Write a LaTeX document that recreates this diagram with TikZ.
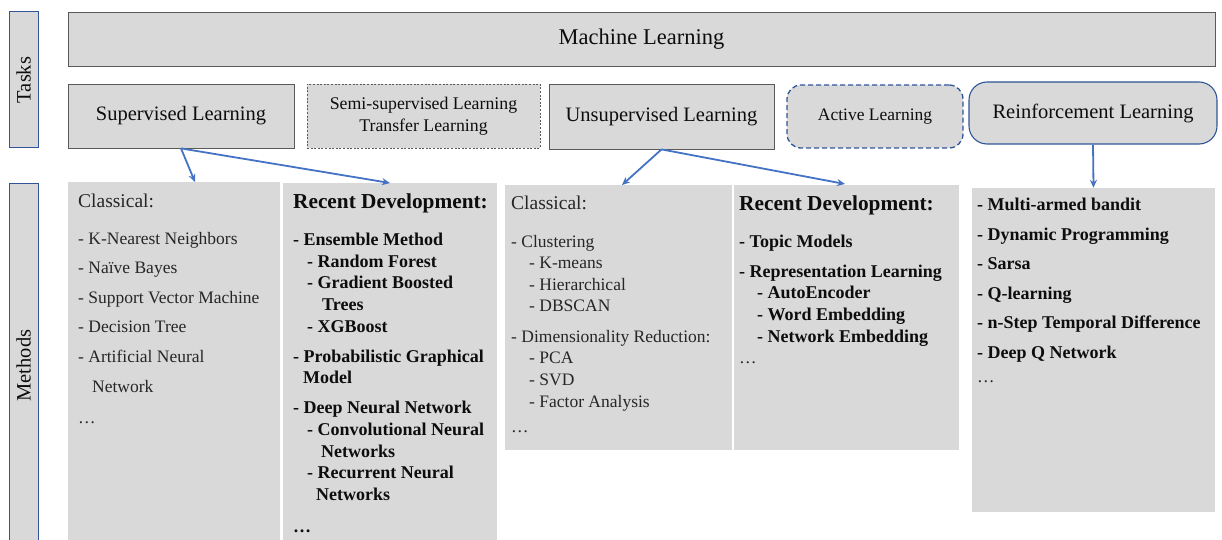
\documentclass[tikz,border=0pt]{standalone}
\usepackage{fontspec}
\setmainfont{Liberation Serif}
\usetikzlibrary{arrows.meta}
\definecolor{boxgray}{HTML}{D9D9D9}
\definecolor{edgegray}{HTML}{5A5A5A}
\definecolor{navy}{HTML}{2F5597}
\definecolor{arrowblue}{HTML}{4472C4}
\definecolor{txtgray}{HTML}{262626}
\definecolor{txtdark}{HTML}{0D0D0D}
\begin{document}
\begin{tikzpicture}[x=1pt,y=-1pt,
  taskbox/.style={draw=edgegray, fill=boxgray, line width=0.8pt, inner sep=0pt, align=center, text=txtdark},
  sidebox/.style={draw=navy, fill=boxgray, line width=1pt, inner sep=0pt, text=txtdark, font=\fontsize{20.5}{24}\selectfont},
  methbox/.style={fill=boxgray, inner sep=0pt},
  big/.style={font=\fontsize{20.5}{24}\selectfont},
  cls/.style={anchor=base west, inner sep=0pt, text=txtgray, font=\fontsize{17.5}{21}\selectfont},
  clsh/.style={anchor=base west, inner sep=0pt, text=txtgray, font=\fontsize{19.5}{23}\selectfont},
  rec/.style={anchor=base west, inner sep=0pt, text=txtdark, font=\bfseries\fontsize{18}{21}\selectfont},
  rech/.style={anchor=base west, inner sep=0pt, text=txtdark, font=\bfseries\fontsize{21.3}{25}\selectfont},
  link/.style={draw=arrowblue, line width=1.8pt, -{Stealth[length=8pt,width=7pt]}}
]
\useasboundingbox (0,0) rectangle (1222,540);
\clip (0,0) rectangle (1222,540);

% side labels
\node[sidebox, minimum width=29pt, minimum height=136pt] (tasks) at (23.5,80) {\rotatebox{90}{Tasks}};
\node[sidebox, minimum width=29pt, minimum height=365pt] (methods) at (23.5,365.5) {\rotatebox{90}{Methods}};

% task boxes
\node[taskbox, minimum width=1147pt, minimum height=54pt, font=\fontsize{22.5}{26}\selectfont] (ml) at (641.5,39) {Machine Learning};
\node[taskbox, big, minimum width=226pt, minimum height=64pt] (sup) at (181,116) {Supervised Learning};
\node[taskbox, dash pattern=on 2pt off 1.6pt, minimum width=233pt, minimum height=64pt, font=\fontsize{17.8}{22}\selectfont] (semi) at (423.5,116) {Semi-supervised Learning\\Transfer Learning};
\node[taskbox, big, minimum width=225pt, minimum height=65pt] (unsup) at (661.5,116.5) {Unsupervised Learning};
\node[taskbox, draw=navy, line width=1.3pt, dash pattern=on 5pt off 3pt, rounded corners=14pt, minimum width=176pt, minimum height=63pt, font=\fontsize{17.5}{21}\selectfont] (active) at (875,116.5) {Active Learning};
\node[taskbox, draw=navy, line width=1.1pt, rounded corners=18pt, big, minimum width=248pt, minimum height=62pt] (rl) at (1093,113) {Reinforcement Learning};

% method boxes
\node[methbox, minimum width=212pt, minimum height=366pt] (supcls) at (174,365) {};
\node[methbox, minimum width=214pt, minimum height=365pt] (suprec) at (390,365.5) {};
\node[methbox, minimum width=227pt, minimum height=265pt] (uncls) at (618.5,317.5) {};
\node[methbox, minimum width=225pt, minimum height=265pt] (unrec) at (846.5,317.5) {};
\node[methbox, minimum width=243pt, minimum height=324pt] (rlbox) at (1093.5,350) {};

% arrows
\coordinate (e1) at (195,182);
\coordinate (e2) at (390,183);
\coordinate (e3) at (622,185);
\coordinate (e4) at (845,184);
\draw[link] (sup.south) -- (e1);
\draw[link] (sup.south) -- (e2);
\draw[link] (unsup.south) -- (e3);
\draw[link] (unsup.south) -- (e4);
\draw[link] (rl.south) -- (rlbox.north);

% supervised classical
\node[clsh] (sc0) at (78,207) {Classical:};
\node[cls] (sc1) at (78,244) {- K-Nearest Neighbors};
\node[cls] (sc2) at (78,273) {- Naïve Bayes};
\node[cls] (sc3) at (78,303) {- Support Vector Machine};
\node[cls] (sc4) at (78,332) {- Decision Tree};
\node[cls] (sc5) at (78,362) {- Artificial Neural};
\node[cls] (sc6) at (92,392) {Network};
\node[cls] (sc7) at (78,423) {\ldots};

% supervised recent
\node[rech] (sr0) at (293,208) {Recent Development:};
\node[rec] (sr1) at (293,245) {- Ensemble Method};
\node[rec] (sr2) at (307,267) {- Random Forest};
\node[rec] (sr3) at (307,288) {- Gradient Boosted};
\node[rec] (sr4) at (322,310) {Trees};
\node[rec] (sr5) at (307,332) {- XGBoost};
\node[rec] (sr6) at (293,362) {- Probabilistic Graphical};
\node[rec] (sr7) at (303,383) {Model};
\node[rec] (sr8) at (293,413) {- Deep Neural Network};
\node[rec] (sr9) at (307,435) {- Convolutional Neural};
\node[rec] (sr10) at (321,457) {Networks};
\node[rec] (sr11) at (307,478) {- Recurrent Neural};
\node[rec] (sr12) at (316,500) {Networks};
\node[rec] (sr13) at (293,532) {\ldots};

% unsupervised classical
\node[clsh] (uc0) at (511,209) {Classical:};
\node[cls] (uc1) at (511,247) {- Clustering};
\node[cls] (uc2) at (529,268) {- K-means};
\node[cls] (uc3) at (529,290) {- Hierarchical};
\node[cls] (uc4) at (529,311) {- DBSCAN};
\node[cls] (uc5) at (511,342) {- Dimensionality Reduction:};
\node[cls] (uc6) at (529,363) {- PCA};
\node[cls] (uc7) at (529,385) {- SVD};
\node[cls] (uc8) at (529,407) {- Factor Analysis};
\node[cls] (uc9) at (511,432) {\ldots};

% unsupervised recent
\node[rech] (ur0) at (739,210) {Recent Development:};
\node[rec] (ur1) at (739,247) {- Topic Models};
\node[rec] (ur2) at (739,277) {- Representation Learning};
\node[rec] (ur3) at (757,298) {- AutoEncoder};
\node[rec] (ur4) at (757,320) {- Word Embedding};
\node[rec] (ur5) at (757,342) {- Network Embedding};
\node[cls] (ur6) at (739,363) {\ldots};

% reinforcement
\node[rec] (r1) at (977,210) {- Multi-armed bandit};
\node[rec] (r2) at (977,240) {- Dynamic Programming};
\node[rec] (r3) at (977,269) {- Sarsa};
\node[rec] (r4) at (977,299) {- Q-learning};
\node[rec] (r5) at (977,328) {- n-Step Temporal Difference};
\node[rec] (r6) at (977,358) {- Deep Q Network};
\node[cls] (r7) at (977,382) {\ldots};
\end{tikzpicture}
\end{document}
